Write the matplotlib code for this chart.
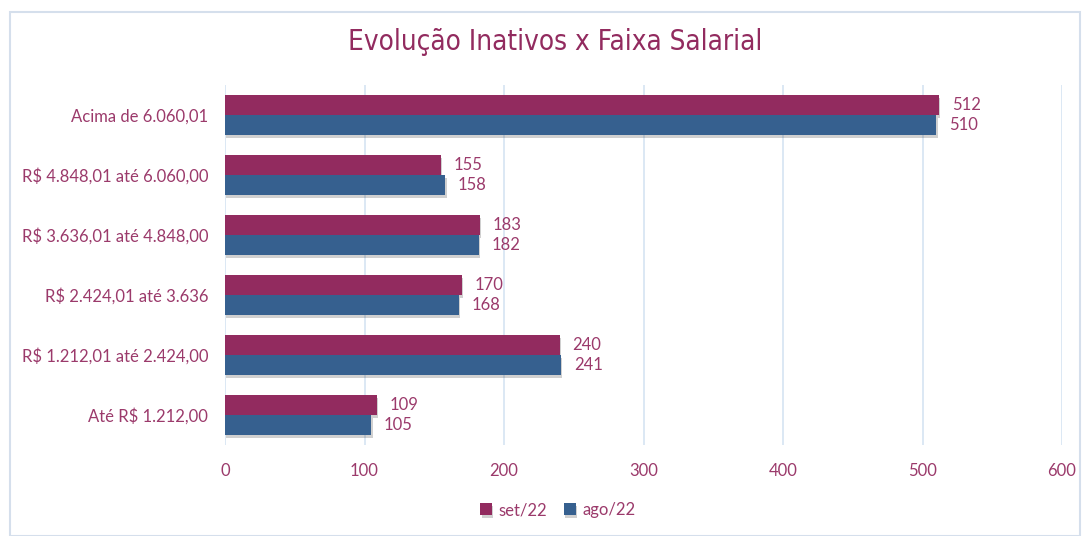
import matplotlib.pyplot as plt
import matplotlib.patheffects as pe
from matplotlib.patches import Rectangle
import numpy as np

categories = ['Até R$ 1.212,00', 'R$ 1.212,01 até 2.424,00', 'R$ 2.424,01 até 3.636',
              'R$ 3.636,01 até 4.848,00', 'R$ 4.848,01 até 6.060,00', 'Acima de 6.060,01']
set22 = [109, 240, 170, 183, 155, 512]
ago22 = [105, 241, 168, 182, 158, 510]
xticks = [0, 100, 200, 300, 400, 500, 600]

c_set = '#922B5F'
c_ago = '#36608F'
c_txt = '#9B3A6B'

plt.rcParams['font.family'] = ['Lato', 'DejaVu Sans']

fig = plt.figure(figsize=(10.91, 5.36), dpi=100)
fig.patches.append(Rectangle((10 / 1091, 0), 1070 / 1091, 1 - 12 / 536, transform=fig.transFigure,
                             fill=False, edgecolor='#D5DFEC', linewidth=1.5))

ax = fig.add_axes([225 / 1091, 1 - 445 / 536, (1062 - 225) / 1091, 360 / 536])
y = np.arange(len(categories))
h = 0.335
shadow = [pe.SimplePatchShadow(offset=(0.8, -2.2), alpha=0.25, shadow_rgbFace='#444444'), pe.Normal()]
b1 = ax.barh(y + h / 2, set22, height=h, color=c_set, label='set/22', zorder=3)
b2 = ax.barh(y - h / 2, ago22, height=h, color=c_ago, label='ago/22', zorder=3)
for b in list(b1) + list(b2):
    b.set_path_effects(shadow)

for yi, v in zip(y, set22):
    ax.annotate(str(v), (v, yi + h / 2), xytext=(9, 0), textcoords='offset points',
                va='center', ha='left', color=c_txt, fontsize=12)
for yi, v in zip(y, ago22):
    ax.annotate(str(v), (v, yi - h / 2), xytext=(9, 0), textcoords='offset points',
                va='center', ha='left', color=c_txt, fontsize=12)

ax.set_xlim(0, 600)
ax.set_ylim(-0.5, len(categories) - 0.5)
ax.set_xticks(xticks)
ax.set_yticks(y)
ax.set_yticklabels(categories)
ax.tick_params(axis='both', length=0, colors=c_txt, labelsize=12)
ax.tick_params(axis='x', pad=13)
ax.tick_params(axis='y', pad=12)
ax.grid(axis='x', color='#D6E4F2', linewidth=1.2, zorder=0)
for s in ax.spines.values():
    s.set_visible(False)

fig.text(555 / 1091, 1 - 42 / 536, 'Evolução Inativos x Faixa Salarial', ha='center', va='center',
         color=c_set, fontsize=20, family=['DejaVu Sans'], fontstretch='condensed')

fig.legend(handles=[b1, b2], loc='center', bbox_to_anchor=(558 / 1091, 1 - 510 / 536),
           ncol=2, frameon=False, fontsize=12, labelcolor=c_txt, handlelength=0.7,
           handleheight=0.7, handletextpad=0.4, columnspacing=1.0)

fig.savefig('out.png', dpi=100)
